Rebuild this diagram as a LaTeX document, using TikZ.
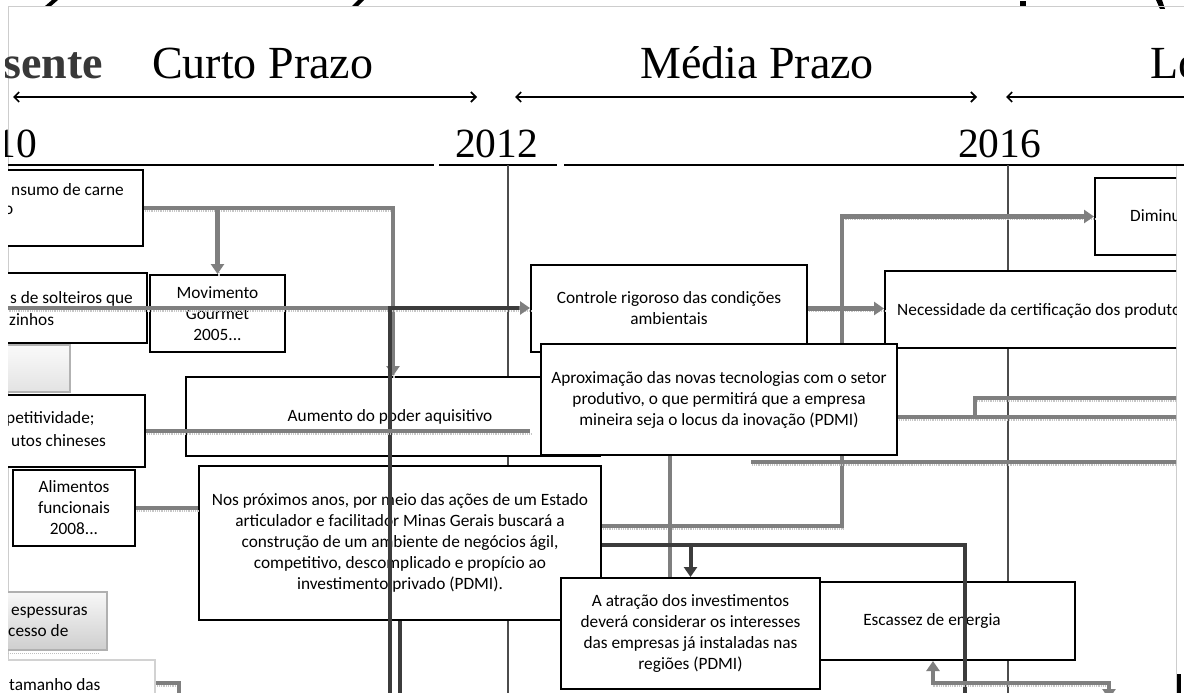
\documentclass[tikz,border=0pt]{standalone}
\usepackage{fontspec}
\setmainfont{Carlito}
\newfontfamily\headserif{Liberation Serif}
\usetikzlibrary{arrows.meta,calc}
\definecolor{gcol}{HTML}{7F7F7F}
\definecolor{dcol}{HTML}{3C3C3C}
\definecolor{framecol}{HTML}{CDCDCD}
\newcommand\bxfont{\fontsize{17.3}{21}\selectfont}
\newcommand\hdfont{\headserif\fontsize{46}{50}\selectfont}
\newcommand\yrfont{\headserif\fontsize{41.5}{44}\selectfont}

\begin{document}
\begin{tikzpicture}[x=1pt,y=-1pt,
  box/.style={draw=black, line width=2pt, fill=white, inner sep=0pt, align=center, font=\bxfont},
  lbl/.style={inner sep=0pt, font=\bxfont},
  gline/.style={draw=gcol, line width=4.5pt,
    preaction={draw=gray!45, line width=2.2pt, dash pattern=on 0.9pt off 0.9pt, arrows=-,
      transform canvas={shift={(1.2pt,-2.6pt)}}}},
  gconn/.style={gline, -{Triangle[length=10pt,width=13pt]}},
  dline/.style={draw=dcol, line width=4pt},
  dconn/.style={dline, -{Triangle[length=10pt,width=13pt]}},
  harrow/.style={draw=black, line width=1.6pt},
  tick/.style={draw=black!70, line width=1.1pt},
  yearline/.style={draw=black, line width=2.6pt}]

\useasboundingbox (0,0) rectangle (1184,693);
\fill[white] (0,0) rectangle (1184,693);

% fragments of the title above the frame
\fill[black] (44,7) -- (50,7) -- (58,0) -- (52,0) -- cycle;
\fill[black] (351,7) -- (357,7) -- (364,0) -- (358,0) -- cycle;
\fill[black] (1020,1) rectangle (1026,7);
\fill[black] (1156,0) -- (1162,0) -- (1165,9) -- (1160,9) -- cycle;

% frame of the slide
\draw[framecol, line width=1pt] (8,7) -- (1184,7);
\draw[framecol, line width=1pt] (8,7) -- (8,693);
\draw[framecol, line width=1pt] (1176,165) -- (1176,693);

% headings
\begin{scope}
\clip (5,0) rectangle (1184,693);
\node[anchor=base east, inner sep=0pt, font=\hdfont\bfseries, text=black!78] (hPres) at (103,78) {sente};
\node[anchor=base west, inner sep=0pt, font=\hdfont] (hCurto) at (152,78) {Curto Prazo};
\node[anchor=base west, inner sep=0pt, font=\hdfont] (hMedio) at (640,78) {Média Prazo};
\node[anchor=base west, inner sep=0pt, font=\hdfont] (hLongo) at (1150,78) {Lo};
\node[anchor=base east, inner sep=0pt, font=\yrfont] (y2010) at (37,157) {10};
\node[anchor=base west, inner sep=0pt, font=\yrfont] (y2012) at (455,157) {2012};
\node[anchor=base west, inner sep=0pt, font=\yrfont] (y2016) at (958,157) {2016};
\end{scope}

% period arrows
\coordinate (aC1) at (13,97);  \coordinate (aC2) at (477,97);
\coordinate (aM1) at (515,97); \coordinate (aM2) at (977,97);
\coordinate (aL1) at (1006,97); \coordinate (aL2) at (1190,97);
\draw[harrow, {Straight Barb[length=5pt,width=10pt]}-{Straight Barb[length=5pt,width=10pt]}] (aC1) -- (aC2);
\draw[harrow, {Straight Barb[length=5pt,width=10pt]}-{Straight Barb[length=5pt,width=10pt]}] (aM1) -- (aM2);
\draw[harrow, {Straight Barb[length=5pt,width=10pt]}-] (aL1) -- (aL2);

% year axis
\draw[yearline] (8,165) -- (434,165);
\draw[yearline] (439,165) -- (557,165);
\draw[yearline] (564,165) -- (1184,165);

\begin{scope}
\clip (8,165) rectangle (1176,700);
% year ticks
\draw[tick] (508,165) -- (508,700);
\draw[tick] (1008,165) -- (1008,700);

% boxes, back layer
\node[box, minimum width=203pt, minimum height=76pt] (consumo) at (41.5,208) {};
\node[lbl, anchor=base west] (consumoT1) at (11,195) {nsumo de carne};
\node[lbl, anchor=base west] (consumoT2) at (4,214) {o};

\node[box, minimum width=207pt, minimum height=70pt] (solteiros) at (43.5,308) {};
\node[lbl, anchor=base west] (solteirosT1) at (10,303) {s de solteiros que};
\node[lbl, anchor=base west] (solteirosT2) at (9,325) {zinhos};

\node[box, minimum width=135pt, minimum height=77pt] (movimento) at (217.5,313.5) {Movimento\\Gourmet\\2005...};

\node[box, draw=gray!60, top color=gray!4, bottom color=gray!22, minimum width=130pt, minimum height=47pt] (cinzaA) at (5,368.5) {};
\draw[gray!50, line width=1.5pt, dash pattern=on 1pt off 1pt] (8,394.5) -- (68,394.5);

\node[box, minimum width=205pt, minimum height=72pt] (compet) at (42.5,431) {};
\node[lbl, anchor=base west] (competT1) at (6,423) {petitividade;};
\node[lbl, anchor=base west] (competT2) at (11,446) {utos chineses};

\node[box, minimum width=122pt, minimum height=76pt] (alimentos) at (74,508) {Alimentos\\funcionais\\2008...};

\node[box, draw=gray!62, top color=gray!6, bottom color=gray!38, minimum width=167pt, minimum height=58pt] (espess) at (23.5,621) {};
\node[lbl, anchor=base west] (espessT1) at (11,615) {espessuras};
\node[lbl, anchor=base west] (espessT2) at (8,636) {cesso de};
\draw[gray!50, line width=1.5pt, dash pattern=on 1pt off 1pt] (8,653.5) -- (100,653.5);

\node[box, draw=gray!35, minimum width=215pt, minimum height=70pt] (tamanho) at (47.5,695) {};
\node[lbl, anchor=base west] (tamanhoT) at (9,690) {tamanho das};

\node[box, minimum width=414pt, minimum height=79pt] (aumento) at (393,416.5) {\hspace*{-6pt}Aumento do poder aquisitivo};
\node[box, minimum width=276pt, minimum height=87pt] (controle) at (669,308.5) {Controle rigoroso das condições\\ambientais};
\node[box, minimum width=402pt, minimum height=154pt] (nosprox) at (400,543) {Nos próximos anos, por meio das ações de um Estado\\articulador e facilitador Minas Gerais buscará a\\construção de um ambiente de negócios ágil,\\competitivo, descomplicado e propício ao\\investimento privado (PDMI).};
\node[box, minimum width=308pt, minimum height=78pt] (escassez) at (921,621) {\hspace*{22pt}Escassez de energia};
\node[box, minimum width=375pt, minimum height=77pt] (necess) at (1072.5,309.5) {};
\node[lbl, anchor=west] (necessT) at (897,311) {Necessidade da certificação dos produto};
\node[box, minimum width=165pt, minimum height=77pt] (diminu) at (1177.5,216.5) {};
\node[lbl, anchor=west] (diminuT) at (1130,216) {Diminu};

% free ends of connectors
\coordinate (dBotA) at (390,700);
\coordinate (dBotC) at (965,700);
\coordinate (gBend) at (842,526);
\coordinate (rEdgeA) at (1190,417);
\coordinate (stepA) at (975,417);
\coordinate (stepB) at (975,398);
\coordinate (rEdgeB) at (1190,398);
\coordinate (gStart8) at (751,462);
\coordinate (rEdgeC) at (1190,462);
\coordinate (eTurn) at (1109,683);
\coordinate (eEnd) at (1109,699);

% connectors behind the front boxes
\draw[gconn] (consumo.east) -| (aumento.north);
\draw[gconn] (consumo.east -| movimento.north) -- (movimento.north);
\draw[gconn] (solteiros.west) -- (solteiros.west -| controle.west);
\draw[dline] (dBotA) |- ($(solteiros.west -| controle.west)+(-11,0)$);
\draw[dline] (nosprox.south) -- (nosprox.south |- dBotA);
\draw[gconn] (controle.east) -- (controle.east -| necess.west);
\draw[gconn] ($(nosprox.east)+(0,-17)$) -- (gBend) |- (diminu.west);
\draw[gline] (compet.east) -- (compet.east -| controle.west);
\draw[gline] (alimentos.east) -- (alimentos.east -| nosprox.west);
\draw[gline] ($(tamanho.east)+(0,-12)$) -- ++(23,0) -- ++(0,25);
\draw[gline] (gStart8) -- (rEdgeC);
\draw[gline] (stepA) -- (stepB) -- (rEdgeB);

% front boxes
\node[box, minimum width=356pt, minimum height=111pt] (aprox) at (719,399.5) {Aproximação das novas tecnologias com o setor\\produtivo, o que permitirá que a empresa\\mineira seja o locus da inovação (PDMI)};
\draw[gline] ($(aprox.east)+(0,17.5)$) -- (rEdgeA);
\coordinate (aproxOut) at ($(aprox.south)+(-49,0)$);
\draw[gline] (aproxOut) -- (aproxOut |- 0,578);

\node[box, minimum width=259pt, minimum height=111pt] (atracao) at (690.5,633.5) {A atração dos investimentos\\deverá considerar os interesses\\das empresas já instaladas nas\\regiões (PDMI)};
\coordinate (nosOut) at ($(nosprox.east)+(0,2)$);
\draw[dline] (nosOut) -| (dBotC);
\draw[dconn] (nosOut -| atracao.north) -- (atracao.north);
\draw[gline, {Triangle[length=10pt,width=13pt]}-{Triangle[length=10pt,width=13pt]}] ($(escassez.south)+(12,0)$) |- (eTurn) -- (eEnd);
\end{scope}

% mark at the lower right edge
\fill[black] (1177,674) rectangle (1181,693);
\end{tikzpicture}
\end{document}
